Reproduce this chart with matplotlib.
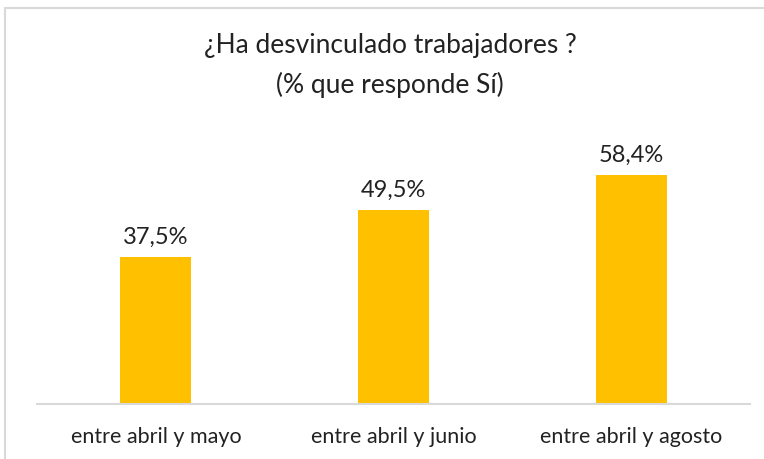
import matplotlib.pyplot as plt
from matplotlib.patches import Rectangle

plt.rcParams['font.family'] = ['Lato', 'DejaVu Sans']

# datos
periodos = ["entre abril y mayo", "entre abril y junio", "entre abril y agosto"]
porcentajes = [37.5, 49.5, 58.4]
etiquetas = ["37,5%", "49,5%", "58,4%"]

W, H = 764, 460
fig = plt.figure(figsize=(W / 100, H / 100), dpi=100)

# borde gris del gráfico
fig.patches.append(Rectangle((5 / W, -0.1), 1.2, 1 - 9 / H + 0.1, transform=fig.transFigure,
                             fill=False, edgecolor='#D9D9D9', linewidth=1.5))

ax = fig.add_axes([37 / W, 55 / H, 713 / W, 265 / H])
x = range(len(periodos))
ax.bar(x, porcentajes, width=0.30, color='#FFC000')

for xi, v, t in zip(x, porcentajes, etiquetas):
    ax.annotate(t, (xi, v), xytext=(0, 7), textcoords='offset points',
                ha='center', va='bottom', fontsize=17, color='#222222')

ax.set_xlim(-0.5, 2.5)
ax.set_ylim(0, 67.6)
ax.set_xticks(list(x))
ax.set_xticklabels(periodos, fontsize=15.5, color='#222222')
ax.tick_params(axis='x', length=0, pad=16)
ax.set_yticks([])
for s in ['top', 'right', 'left']:
    ax.spines[s].set_visible(False)
ax.spines['bottom'].set_color('#D9D9D9')
ax.spines['bottom'].set_linewidth(1.5)

fig.text(390 / W, 1 - 45 / H, "¿Ha desvinculado trabajadores ?", ha='center', va='center',
         fontsize=19, color='#222222')
fig.text(390 / W, 1 - 85 / H, "(% que responde Sí)", ha='center', va='center',
         fontsize=19, color='#222222')

fig.savefig('out.png', dpi=100)
